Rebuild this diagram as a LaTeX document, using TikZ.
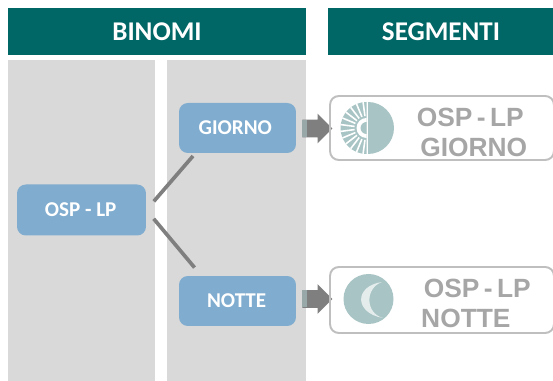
\documentclass[tikz,border=0pt]{standalone}
\usepackage{fontspec}
\usepackage{xcolor}
\usetikzlibrary{shapes.arrows}
\setmainfont{Carlito}
\newfontfamily\segfont{Liberation Sans}
\definecolor{headteal}{HTML}{006666}
\definecolor{panelgray}{HTML}{D9D9D9}
\definecolor{boxblue}{HTML}{7FACCF}
\definecolor{linkgray}{HTML}{7F7F7F}
\definecolor{edgegray}{HTML}{BFBFBF}
\definecolor{texgray}{HTML}{A6A6A6}
\definecolor{iconteal}{HTML}{A9C4C4}
\definecolor{moonlight}{HTML}{E4ECEC}
\tikzset{
    header/.style={fill=headteal,text=white,font=\fontsize{15.4}{17}\selectfont\bfseries,minimum height=0.94cm,inner sep=0pt},
    panel/.style={fill=panelgray,minimum height=6.42cm,inner sep=0pt},
    binom/.style={fill=boxblue,text=white,rounded corners=5pt,font=\fontsize{12}{14}\selectfont\bfseries,inner sep=0pt},
    link/.style={draw=linkgray,line width=2.1pt},
    segbox/.style={draw=edgegray,line width=1.1pt,rounded corners=5pt,minimum width=4.48cm,inner sep=0pt},
    segtext/.style={text=texgray,font=\segfont\fontsize{15}{17}\selectfont\bfseries,inner sep=0pt},
    blockarrow/.style={single arrow,fill=linkgray,minimum height=0.6cm,inner xsep=0pt,inner ysep=0.17cm,single arrow head extend=0.12cm}
}
\newcommand{\tightsp}{\hspace{2.5pt}}
\begin{document}
\begin{tikzpicture}[x=0.02cm,y=0.02cm]
    \useasboundingbox (0,0) rectangle (553,381);
    % Titles
    \node[header,minimum width=5.96cm] (binomi) at (157,349.5) {BINOMI};
    \node[header,minimum width=4.52cm] (segmenti) at (441,349.5) {SEGMENTI};
    % Columns
    \node[panel,minimum width=2.94cm] (panelA) at (81.5,160.5) {};
    \node[panel,minimum width=2.78cm] (panelB) at (236.5,160.5) {};
    % Pairs
    \node[binom,minimum width=2.58cm,minimum height=1.02cm] (osplp) at (81.5,171) {OSP - LP\kern1pt};
    \node[binom,minimum width=2.34cm,minimum height=1cm] (giorno) at (237.5,253) {GIORNO\kern2.5pt};
    \node[binom,minimum width=2.34cm,minimum height=1cm] (notte) at (237.5,80) {NOTTE\kern1pt};
    \draw[link,shorten <=6.5pt,shorten >=2pt] (osplp.east) -- (giorno.211);
    \draw[link,shorten <=6.5pt,shorten >=6pt] (osplp.east) -- (notte.145);
    % Segments
    \node[blockarrow] (arrowG) at (313,252.5) {};
    \node[blockarrow] (arrowN) at (313,82) {};
    \fill[iconteal!60!linkgray] (arrowG.west) ++(0,8.5) rectangle ++(5,-17);
    \fill[iconteal!60!linkgray] (arrowN.west) ++(0,8.5) rectangle ++(5,-17);
    \node[segbox,minimum height=1.28cm] (segG) at (442,253) {};
    \node[segbox,minimum height=1.32cm] (segN) at (442,81) {};
    \node[segtext,align=center] (textG) at (472,248.5) {OSP\tightsp-\tightsp LP\hspace*{2pt}\\\hspace*{2pt}GIORNO};
    \node[segtext,align=left] (textN) at (476,78) {\hspace*{1.5pt}OSP\tightsp-\tightsp LP\\NOTTE};
    % Sun
    \fill[iconteal] (368,279) arc (90:-90:26) -- cycle;
    \fill[iconteal] (366.5,279) arc (90:270:26) -- cycle;
    \foreach \a in {97.5,112.5,...,262.5}
        \draw[white,line width=0.9pt] (366.5,253) ++(\a:12) -- ++(\a:14);
    \fill[white] (366.5,263) arc (90:270:10) -- cycle;
    \fill[iconteal] (366.5,259) arc (90:270:6) -- cycle;
    % Moon
    \fill[iconteal] (368.5,82) circle (25);
    \fill[moonlight] (382,99) .. controls (354,95) and (354,68) .. (383,63) .. controls (365,68) and (365,93) .. (382,99) -- cycle;
\end{tikzpicture}
\end{document}
